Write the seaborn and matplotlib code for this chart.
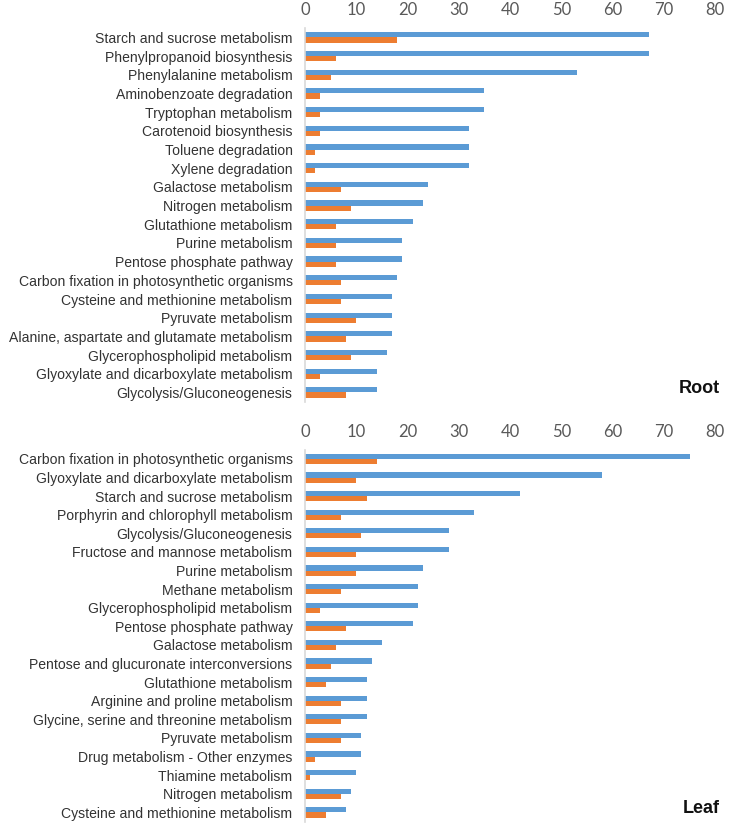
"""
plot.py — Root / Leaf のKEGGパスウェイ遺伝子数を横棒グラフで描く
"""
import pandas as pd
import seaborn as sns
import matplotlib.pyplot as plt

# Root パネル
root_pathways = [
    "Starch and sucrose metabolism",
    "Phenylpropanoid biosynthesis",
    "Phenylalanine metabolism",
    "Aminobenzoate degradation",
    "Tryptophan metabolism",
    "Carotenoid biosynthesis",
    "Toluene degradation",
    "Xylene degradation",
    "Galactose metabolism",
    "Nitrogen metabolism",
    "Glutathione metabolism",
    "Purine metabolism",
    "Pentose phosphate pathway",
    "Carbon fixation in photosynthetic organisms",
    "Cysteine and methionine metabolism",
    "Pyruvate metabolism",
    "Alanine, aspartate and glutamate metabolism",
    "Glycerophospholipid metabolism",
    "Glyoxylate and dicarboxylate metabolism",
    "Glycolysis/Gluconeogenesis",
]
root_blue = [67, 67, 53, 35, 35, 32, 32, 32, 24, 23, 21, 19, 19, 18, 17, 17, 17, 16, 14, 14]
root_orange = [18, 6, 5, 3, 3, 3, 2, 2, 7, 9, 6, 6, 6, 7, 7, 10, 8, 9, 3, 8]

# Leaf パネル
leaf_pathways = [
    "Carbon fixation in photosynthetic organisms",
    "Glyoxylate and dicarboxylate metabolism",
    "Starch and sucrose metabolism",
    "Porphyrin and chlorophyll metabolism",
    "Glycolysis/Gluconeogenesis",
    "Fructose and mannose metabolism",
    "Purine metabolism",
    "Methane metabolism",
    "Glycerophospholipid metabolism",
    "Pentose phosphate pathway",
    "Galactose metabolism",
    "Pentose and glucuronate interconversions",
    "Glutathione metabolism",
    "Arginine and proline metabolism",
    "Glycine, serine and threonine metabolism",
    "Pyruvate metabolism",
    "Drug metabolism - Other enzymes",
    "Thiamine metabolism",
    "Nitrogen metabolism",
    "Cysteine and methionine metabolism",
]
leaf_blue = [75, 58, 42, 33, 28, 28, 23, 22, 22, 21, 15, 13, 12, 12, 12, 11, 11, 10, 9, 8]
leaf_orange = [14, 10, 12, 7, 11, 10, 10, 7, 3, 8, 6, 5, 4, 7, 7, 7, 2, 1, 7, 4]

series_names = ["Series 1", "Series 2"]
x_ticks = [0, 10, 20, 30, 40, 50, 60, 70, 80]

BLUE = "#5B9BD5"
ORANGE = "#ED7D31"


def to_long(pathways, blue, orange):
    df = pd.DataFrame({"pathway": pathways, series_names[0]: blue, series_names[1]: orange})
    return df.melt(id_vars="pathway", var_name="series", value_name="value")


def draw_panel(ax, df, order, tag):
    sns.barplot(
        data=df, x="value", y="pathway", hue="series", order=order,
        hue_order=series_names, orient="h", palette=[BLUE, ORANGE],
        width=0.55, saturation=1, legend=False, linewidth=0, ax=ax,
    )
    ax.set_xlim(0, 80)
    ax.set_ylim(len(order) - 0.5, -0.5)
    ax.xaxis.tick_top()
    ax.set_xticks(x_ticks)
    ax.set_xticklabels([str(t) for t in x_ticks], family="Lato", fontsize=12, color="#595959")
    ax.tick_params(axis="x", length=0, pad=7)
    ax.tick_params(axis="y", length=0, pad=9, labelsize=10.1, labelcolor="#333333")
    ax.set_xlabel("")
    ax.set_ylabel("")
    for s in ["top", "right", "bottom"]:
        ax.spines[s].set_visible(False)
    ax.spines["left"].set_color("#D9D9D9")
    ax.spines["left"].set_linewidth(1.2)
    ax.text(1.012, 0.012, tag, transform=ax.transAxes, ha="right", va="bottom",
            fontsize=13, fontweight="bold", color="#111111")


sns.set_theme(style="white")
plt.rcParams["font.family"] = ["Liberation Sans", "DejaVu Sans"]

fig = plt.figure(figsize=(7.35, 8.25), dpi=100)
ax_root = fig.add_axes([0.415, 0.513, 0.558, 0.453])
ax_leaf = fig.add_axes([0.415, 0.004, 0.558, 0.451])

draw_panel(ax_root, to_long(root_pathways, root_blue, root_orange), root_pathways, "Root")
draw_panel(ax_leaf, to_long(leaf_pathways, leaf_blue, leaf_orange), leaf_pathways, "Leaf")

fig.savefig("out.png", dpi=100, facecolor="white")
